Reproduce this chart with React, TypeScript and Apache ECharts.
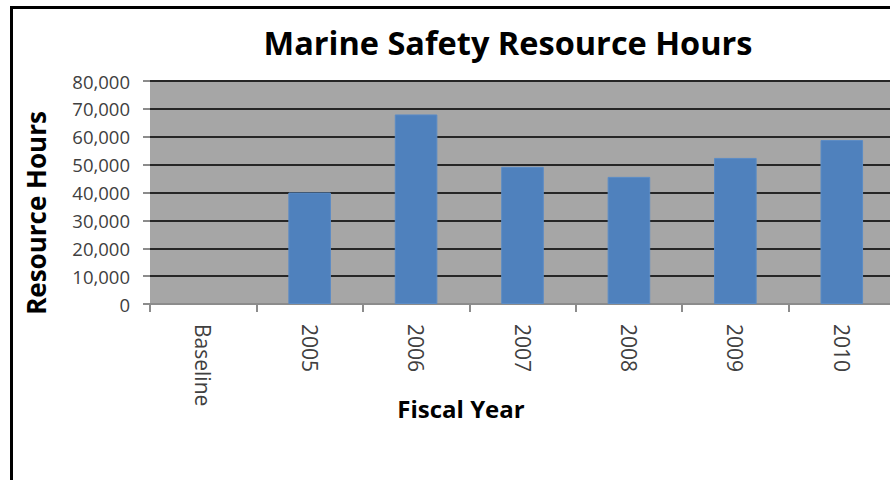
import React, { useEffect, useRef } from "react";
import * as echarts from "echarts";

const categories = ["Baseline", "2005", "2006", "2007", "2008", "2009", "2010"];
const hours = [null, 40000, 68000, 49200, 45600, 52400, 58800];
const chartTitle = "Marine Safety Resource Hours";
const xTitle = "Fiscal Year";
const yTitle = "Resource Hours";

export default function App() {
  const ref = useRef<HTMLDivElement>(null);
  useEffect(() => {
    if (!ref.current) return;
    const chart = echarts.init(ref.current, null, { renderer: "svg" });
    const splitColors = ["#8c8c8c", "#262626", "#262626", "#262626", "#262626", "#262626", "#262626", "#262626", "#262626"];
    chart.setOption({
      animation: false,
      backgroundColor: "#ffffff",
      grid: {
        left: 150,
        top: 81,
        width: 745,
        bottom: 176,
        show: true,
        backgroundColor: "#a6a6a6",
        borderWidth: 0,
        outerBoundsMode: "none",
        containLabel: false,
      },
      xAxis: {
        type: "category",
        data: categories,
        axisLine: { show: true, lineStyle: { color: "#8c8c8c", width: 2 } },
        axisTick: { show: true, alignWithLabel: false, length: 8, lineStyle: { color: "#8c8c8c", width: 2 } },
        axisLabel: {
          rotate: -90,
          margin: 20,
          fontFamily: "Open Sans",
          fontSize: 21,
          color: "#404040",
          interval: 0,
        },
      },
      yAxis: {
        type: "value",
        min: 0,
        max: 80000,
        interval: 10000,
        axisLine: { show: false },
        axisTick: { show: true, length: 7, lineStyle: { color: "#8c8c8c", width: 2 } },
        splitLine: { show: true, lineStyle: { color: splitColors, width: 2 } },
        axisLabel: {
          margin: 20,
          fontFamily: "Open Sans",
          fontSize: 18.5,
          color: "#404040",
          formatter: (v: number) => v.toLocaleString("en-US"),
        },
      },
      series: [
        {
          type: "bar",
          data: hours,
          barWidth: "40%",
          itemStyle: { color: "#4f81bd", borderColor: "#5b8cc6", borderWidth: 1 },
        },
      ],
      graphic: [
        {
          type: "rect",
          shape: { x: 11.5, y: 7.5, width: 1000, height: 1000 },
          style: { fill: "none", stroke: "#000000", lineWidth: 3 },
          z: 100,
        },
        {
          type: "text",
          x: 508,
          y: 42,
          style: {
            text: chartTitle,
            font: "bold 32.5px 'Open Sans'",
            fill: "#000000",
            align: "center",
            verticalAlign: "middle",
          },
        },
        {
          type: "text",
          x: 461,
          y: 408,
          style: {
            text: xTitle,
            font: "bold 24px 'Open Sans'",
            fill: "#000000",
            align: "center",
            verticalAlign: "middle",
          },
        },
        {
          type: "text",
          x: 36,
          y: 213,
          rotation: Math.PI / 2,
          style: {
            text: yTitle,
            font: "bold 26px 'Open Sans'",
            fill: "#000000",
            align: "center",
            verticalAlign: "middle",
          },
        },
      ],
    });
    return () => chart.dispose();
  }, []);
  return (
    <div
      ref={ref}
      style={{ position: "absolute", left: 0, top: 0, width: 890, height: 480, overflow: "hidden" }}
    />
  );
}
